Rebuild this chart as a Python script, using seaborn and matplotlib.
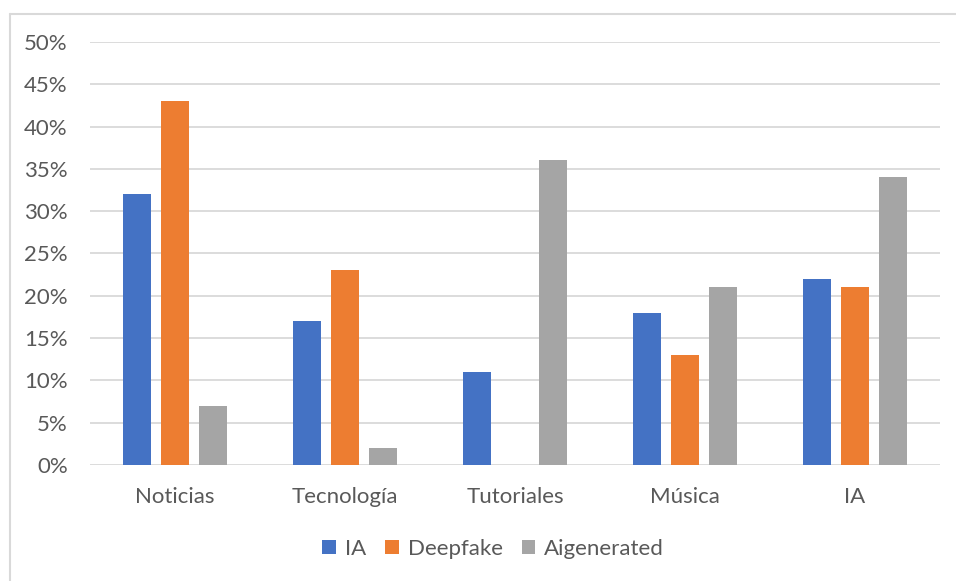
import matplotlib
matplotlib.use("Agg")
import matplotlib.pyplot as plt
from matplotlib.lines import Line2D
from matplotlib.ticker import FuncFormatter, MultipleLocator
import seaborn as sns
import pandas as pd

categories = ["Noticias", "Tecnología", "Tutoriales", "Música", "IA"]
series_names = ["IA", "Deepfake", "Aigenerated"]
ia_values = [32, 17, 11, 18, 22]
deepfake_values = [43, 23, 0, 13, 21]
aigenerated_values = [7, 2, 36, 21, 34]
colors = ["#4472C4", "#ED7D31", "#A5A5A5"]

rows = []
for name, vals in zip(series_names, [ia_values, deepfake_values, aigenerated_values]):
    for cat, v in zip(categories, vals):
        rows.append({"Categoría": cat, "Serie": name, "Valor": v / 100})
df = pd.DataFrame(rows)

sns.set_theme(style="white")
plt.rcParams["font.family"] = ["Lato", "DejaVu Sans"]
text_color = "#595959"
grid_color = "#D9D9D9"
fs = 16

fig = plt.figure(figsize=(9.56, 5.81), dpi=100)
ax = fig.add_axes([0.0941, 0.1997, 0.8892, 0.7280])

sns.barplot(data=df, x="Categoría", y="Valor", hue="Serie", order=categories,
            hue_order=series_names, palette=colors, width=0.67, gap=0.24,
            saturation=1, linewidth=0, ax=ax, zorder=3, legend=True)

ax.set_ylim(0, 0.5)
ax.set_xlim(-0.5, len(categories) - 0.5)
ax.yaxis.set_major_locator(MultipleLocator(0.05))
ax.yaxis.set_major_formatter(FuncFormatter(lambda v, _: f"{round(v * 100)}%"))
ax.grid(axis="y", color=grid_color, linewidth=1.3, zorder=0)
ax.set_axisbelow(True)
for s in ax.spines.values():
    s.set_visible(False)
ax.set_xlabel("")
ax.set_ylabel("")
ax.tick_params(axis="both", length=0, labelsize=fs, colors=text_color)
ax.tick_params(axis="y", pad=16)
ax.tick_params(axis="x", pad=16)

handles, labels = ax.get_legend_handles_labels()
ax.legend_.remove()
fig.legend(handles, labels, loc="center", bbox_to_anchor=(0.516, 0.055), ncol=3,
           frameon=False, fontsize=fs, labelcolor=text_color, handlelength=0.62,
           handleheight=0.62, handletextpad=0.4, columnspacing=0.85)

# chart frame
fig.add_artist(Line2D([9.5 / 956, 1.0], [1 - 13.5 / 581] * 2, transform=fig.transFigure,
                      color=grid_color, linewidth=1.5))
fig.add_artist(Line2D([9.5 / 956] * 2, [0.0, 1 - 13.5 / 581], transform=fig.transFigure,
                      color=grid_color, linewidth=1.5))

fig.savefig("out.png", dpi=100, facecolor="white")
